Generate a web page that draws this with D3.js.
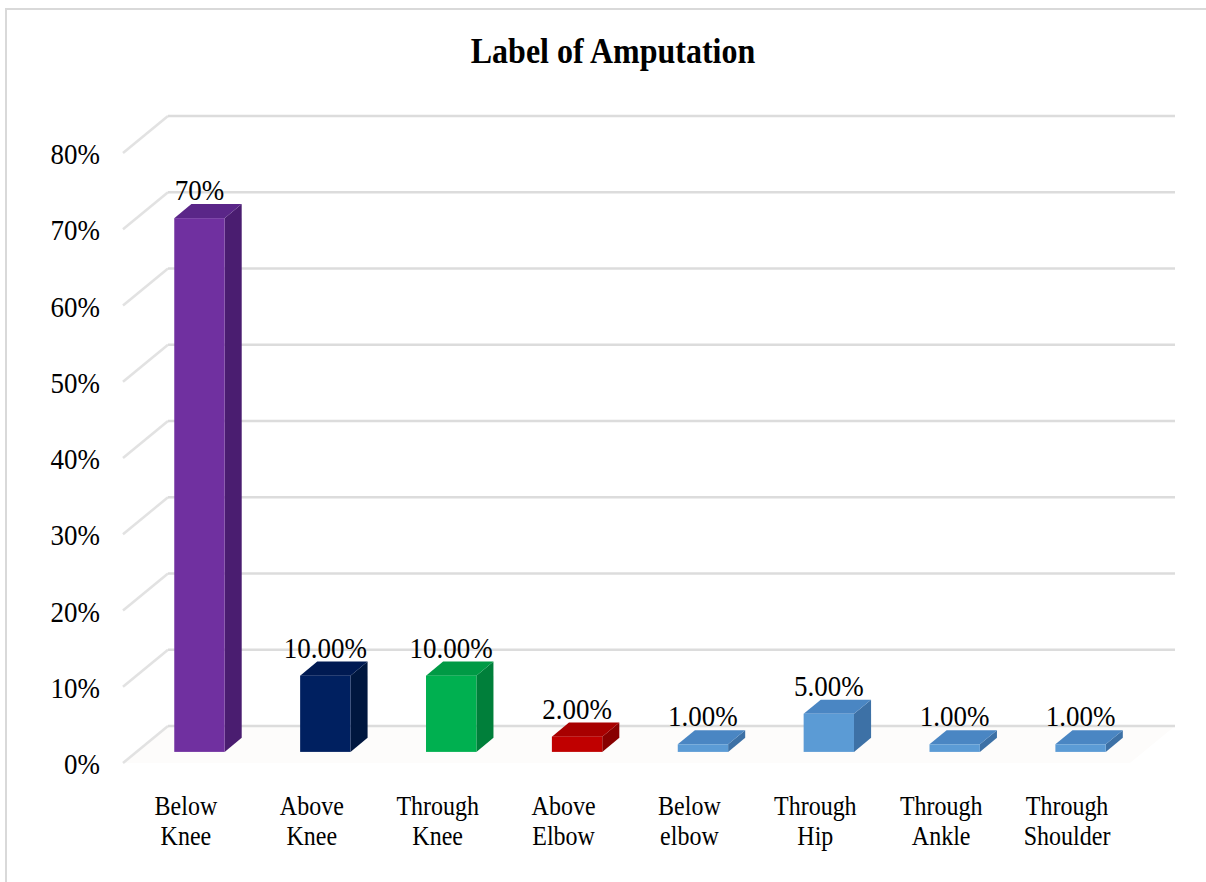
<!DOCTYPE html>
<html>
<head>
<meta charset="utf-8">
<script src="https://cdn.jsdelivr.net/npm/d3@7"></script>
<style>
  html, body { margin: 0; padding: 0; background: #fff; }
  svg { display: block; }
</style>
</head>
<body>
<svg id="chart" width="1206" height="882"></svg>
<script>
// Share of amputation levels (percent)
const categories = [
  ["Below", "Knee"], ["Above", "Knee"], ["Through", "Knee"], ["Above", "Elbow"],
  ["Below", "elbow"], ["Through", "Hip"], ["Through", "Ankle"], ["Through", "Shoulder"]
];
const values = [70, 10, 10, 2, 1, 5, 1, 1];
const labelDecimals = [0, 2, 2, 2, 2, 2, 2, 2];
const yTicks = [0, 10, 20, 30, 40, 50, 60, 70, 80];
const chartTitle = "Label of Amputation";

// face colours: front, top, side
const barColors = [
  ["#7030a0", "#5a2688", "#4a1d70"],
  ["#002060", "#001a52", "#00173f"],
  ["#00b050", "#009a45", "#007f3a"],
  ["#c00000", "#a80000", "#880000"],
  ["#5b9bd5", "#4a86c3", "#3d71a6"],
  ["#5b9bd5", "#4a86c3", "#3d71a6"],
  ["#5b9bd5", "#4a86c3", "#3d71a6"],
  ["#5b9bd5", "#4a86c3", "#3d71a6"]
];

const FONT = "'Liberation Serif', 'Times New Roman', serif";
const STRETCH = 1.12;

const svg = d3.select("#chart");

// outer frame
svg.append("rect")
  .attr("x", 6).attr("y", 9).attr("width", 1240).attr("height", 900)
  .attr("fill", "#fff").attr("stroke", "#d9d9d9").attr("stroke-width", 2);

// 3D projection: front plane from scales, depth offset toward the back wall
const depthDx = 45, depthDy = -37;
const frontDepth = 0.3, backDepth = 0.68;

const x = d3.scaleBand()
  .domain(d3.range(categories.length))
  .range([123, 1130])
  .padding(0);
const y = d3.scaleLinear().domain([0, 80]).range([763, 153]);
const barW = x.bandwidth() * 0.4;

function placeText(sel, tx, ty) {
  return sel.attr("transform", `translate(${tx},${ty}) scale(1,${STRETCH})`);
}

// title
placeText(svg.append("text"), 613, 63)
  .attr("text-anchor", "middle")
  .attr("font-family", FONT).attr("font-weight", "bold").attr("font-size", 32)
  .attr("fill", "#000").text(chartTitle);

// floor (very faint)
svg.append("polygon")
  .attr("points", [
    [123, y(0)], [1130, y(0)], [1130 + depthDx, y(0) + depthDy], [123 + depthDx, y(0) + depthDy]
  ].map(p => p.join(",")).join(" "))
  .attr("fill", "#fdfcfb");

// gridlines: left wall diagonals + back wall horizontals
const grid = svg.append("g").attr("stroke", "#dcdcdc").attr("stroke-width", 2.5).attr("fill", "none");
yTicks.forEach(v => {
  const yf = y(v);
  grid.append("line")
    .attr("x1", 123).attr("y1", yf)
    .attr("x2", 123 + depthDx).attr("y2", yf + depthDy)
    .attr("stroke", "#e2e2e2");
  grid.append("line")
    .attr("x1", 123 + depthDx).attr("y1", yf + depthDy)
    .attr("x2", 1130 + depthDx).attr("y2", yf + depthDy);
});

// y axis labels
const yAxis = d3.axisLeft(y)
  .tickValues(yTicks)
  .tickSize(0)
  .tickPadding(0)
  .tickFormat(d => d + "%");
const yg = svg.append("g").attr("transform", "translate(100,0)").call(yAxis)
  .attr("font-family", FONT);
yg.select(".domain").remove();
yg.selectAll("text")
  .attr("x", null).attr("dy", null)
  .attr("font-family", FONT).attr("font-size", 27).attr("fill", "#000")
  .attr("transform", `translate(0,10.5) scale(1,${STRETCH})`);

// bars
const ddx = depthDx * (backDepth - frontDepth);
const ddy = depthDy * (backDepth - frontDepth);
const pts = arr => arr.map(p => p.join(",")).join(" ");

const bars = svg.append("g");
values.forEach((v, i) => {
  const fx = x(i) + (x.bandwidth() - barW) / 2 + depthDx * frontDepth;
  const y0 = y(0) + depthDy * frontDepth;
  const yt = y(v) + depthDy * frontDepth;
  const [cFront, cTop, cSide] = barColors[i];
  const g = bars.append("g");
  g.append("polygon")
    .attr("points", pts([[fx + barW, yt], [fx + barW + ddx, yt + ddy], [fx + barW + ddx, y0 + ddy], [fx + barW, y0]]))
    .attr("fill", cSide);
  g.append("polygon")
    .attr("points", pts([[fx, yt], [fx + barW, yt], [fx + barW + ddx, yt + ddy], [fx + ddx, yt + ddy]]))
    .attr("fill", cTop);
  g.append("rect")
    .attr("x", fx).attr("y", yt).attr("width", barW).attr("height", y0 - yt)
    .attr("fill", cFront);

  // value label above the bar
  placeText(svg.append("text"), fx + barW / 2, yt + ddy - 4)
    .attr("text-anchor", "middle")
    .attr("font-family", FONT).attr("font-size", 27).attr("fill", "#000")
    .text(v.toFixed(labelDecimals[i]) + "%");
});

// category labels (two lines each)
categories.forEach((lines, i) => {
  const cx = x(i) + x.bandwidth() / 2;
  lines.forEach((ln, k) => {
    placeText(svg.append("text"), cx, 815 + k * 30)
      .attr("text-anchor", "middle")
      .attr("font-family", FONT).attr("font-size", 24).attr("fill", "#000")
      .text(ln);
  });
});
</script>
</body>
</html>
